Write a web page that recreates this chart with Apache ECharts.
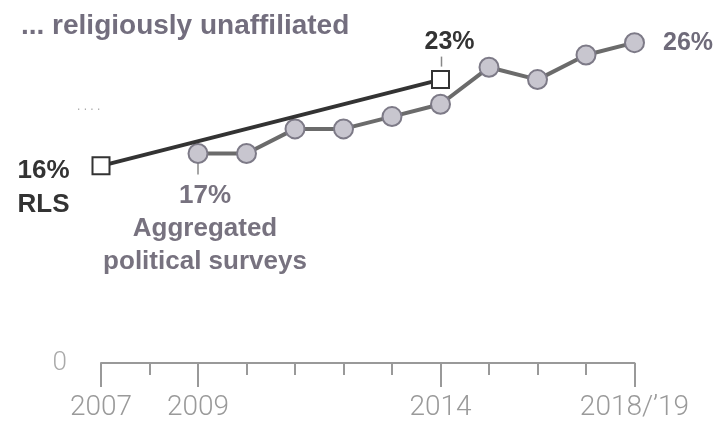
<!DOCTYPE html>
<html>
<head>
<meta charset="utf-8">
<script src="https://cdn.jsdelivr.net/npm/echarts@6/dist/echarts.min.js"></script>
<style>html,body{margin:0;padding:0;background:#fff;}#c{width:725px;height:430px;}</style>
</head>
<body>
<div id="c"></div>
<script>
var categories = ['2007','2008','2009','2010','2011','2012','2013','2014','2015','2016','2017','2018/\u201919'];
var tickLabels = ['2007','2009','2014','2018/\u201919'];
var aggregated = [null, null, 17, 17, 19, 19, 20, 21, 24, 23, 25, 26];
var rls = [16, null, null, null, null, null, null, 23, null, null, null, null];
var titleText = '... religiously unaffiliated';

var chart = echarts.init(document.getElementById('c'));
var labeled = function (idx, val) { return tickLabels.indexOf(categories[idx]) >= 0; };

var aggData = aggregated.map(function (v, i) {
  if (i === 2) {
    return { value: v, label: { show: true, position: 'bottom', distance: 15, offset: [7, 0],
      formatter: '17%\nAggregated\npolitical surveys', align: 'center', verticalAlign: 'top',
      color: '#77727f', fontSize: 26, fontWeight: 'bold', lineHeight: 33, fontFamily: 'Liberation Sans' } };
  }
  if (i === aggregated.length - 1) {
    return { value: v, label: { show: true, position: 'right', distance: 18,
      formatter: '26%', color: '#6f6b7a', fontSize: 25, fontWeight: 'bold', fontFamily: 'Liberation Sans' } };
  }
  return v;
});
var rlsData = rls.map(function (v, i) {
  if (i === 0) {
    return { value: v, label: { show: true, position: [-74, -3], align: 'left', verticalAlign: 'top',
      formatter: '16%\nRLS', color: '#333', fontSize: 26, fontWeight: 'bold', lineHeight: 34, fontFamily: 'Liberation Sans' } };
  }
  if (i === 7) {
    return { value: v, label: { show: true, position: 'top', distance: 15, offset: [9, 0],
      formatter: '23%', color: '#333', fontSize: 25, fontWeight: 'bold', fontFamily: 'Liberation Sans' } };
  }
  return v;
});

var option = {
  animation: false,
  backgroundColor: '#fff',
  title: { text: titleText, left: 16, top: 7,
    textStyle: { color: '#736e7e', fontSize: 28, fontWeight: 'bold', fontFamily: 'Liberation Sans' } },
  grid: { left: 101, right: 90.5, top: 18, bottom: 67 },
  xAxis: [{
    type: 'category', data: categories, boundaryGap: false,
    axisLine: { lineStyle: { color: '#999', width: 2 } },
    axisTick: { length: 12, lineStyle: { color: '#999', width: 2 }, interval: 0 },
    axisLabel: { show: false }
  }, {
    type: 'category', data: categories, boundaryGap: false, position: 'bottom',
    axisLine: { show: false },
    axisTick: { length: 24, lineStyle: { color: '#999', width: 2 }, interval: labeled },
    axisLabel: { interval: labeled, margin: 31, color: '#9a9a9a', fontSize: 28,
      fontFamily: 'Roboto', fontWeight: 300 }
  }],
  yAxis: {
    type: 'value', min: 0, max: 28,
    axisLine: { show: false }, axisTick: { show: false }, splitLine: { show: false },
    axisLabel: { margin: 34, color: '#aaa', fontSize: 26, fontFamily: 'Roboto', fontWeight: 300,
      formatter: function (v) { return v === 0 ? '0' : ''; } }
  },
  series: [{
    type: 'line', name: 'Aggregated political surveys', data: aggData,
    symbol: 'circle', symbolSize: 19,
    lineStyle: { color: '#6b6b6b', width: 4 },
    itemStyle: { color: '#c8c6cf', borderColor: '#7d7a87', borderWidth: 2 },
    z: 2
  }, {
    type: 'line', name: 'RLS', data: rlsData, connectNulls: true,
    symbol: 'rect', symbolSize: 17,
    lineStyle: { color: '#333', width: 4 },
    itemStyle: { color: '#fff', borderColor: '#333', borderWidth: 2 },
    z: 3
  }]
};
chart.setOption(option);

var p17 = chart.convertToPixel({ xAxisIndex: 0, yAxisIndex: 0 }, [2, aggregated[2]]);
var p23 = chart.convertToPixel({ xAxisIndex: 0, yAxisIndex: 0 }, [7, rls[7]]);
var pTop = chart.convertToPixel({ xAxisIndex: 0, yAxisIndex: 0 }, [0, 20]);
chart.setOption({
  graphic: [
    { type: 'line', shape: { x1: p17[0], y1: p17[1] + 9, x2: p17[0], y2: p17[1] + 21 },
      style: { stroke: '#888', lineWidth: 1.5 } },
    { type: 'line', shape: { x1: p23[0] + 1, y1: p23[1] - 23, x2: p23[0] + 1, y2: p23[1] - 13 },
      style: { stroke: '#888', lineWidth: 1.5 } },
    { type: 'text', left: pTop[0] - 24, top: pTop[1] - 16,
      style: { text: '. . . .', fill: '#aaa', fontSize: 12, fontFamily: 'Liberation Sans' } }
  ]
});
</script>
</body>
</html>
